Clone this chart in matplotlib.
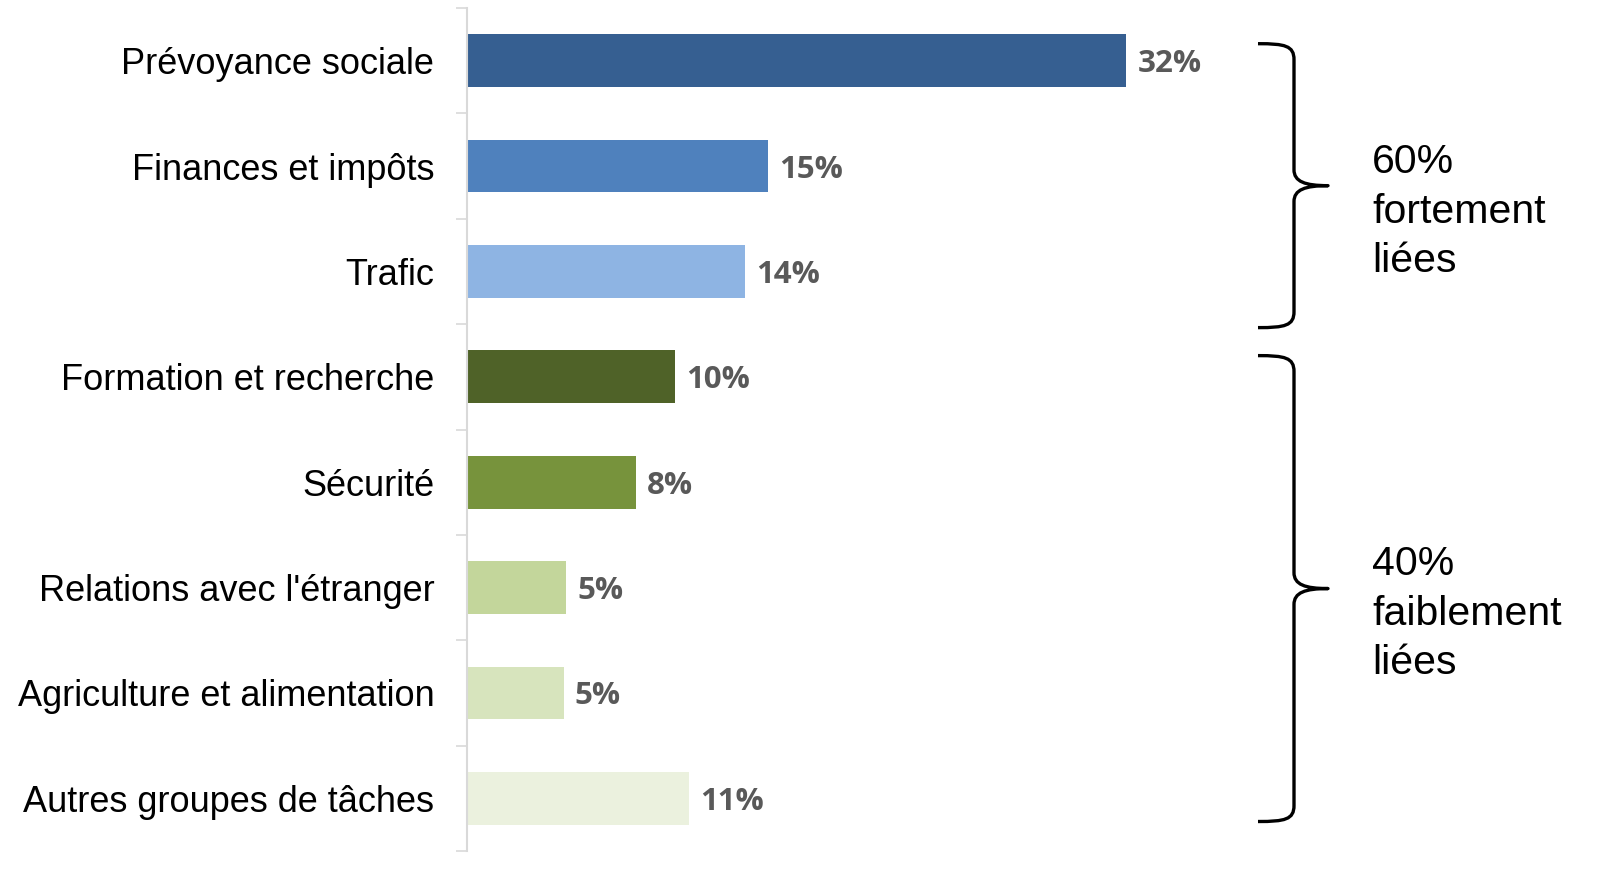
import matplotlib
matplotlib.use("Agg")
import matplotlib.pyplot as plt
from matplotlib.path import Path
from matplotlib.patches import PathPatch

categories = ["Prévoyance sociale", "Finances et impôts", "Trafic",
              "Formation et recherche", "Sécurité", "Relations avec l'étranger",
              "Agriculture et alimentation", "Autres groupes de tâches"]
values = [32.0, 14.6, 13.5, 10.1, 8.2, 4.8, 4.7, 10.8]
value_labels = ["32%", "15%", "14%", "10%", "8%", "5%", "5%", "11%"]
colors = ["#365F91", "#4F81BD", "#8EB4E3", "#4F6228", "#77933C",
          "#C3D69B", "#D7E4BD", "#EBF1DE"]
group_texts = ["60%\nfortement\nliées", "40%\nfaiblement\nliées"]

W, H = 1614, 874
fig = plt.figure(figsize=(W / 100, H / 100), dpi=100)
ax_left, ax_right, ax_top, ax_bot = 467, 1250, 8, 851
ax = fig.add_axes([ax_left / W, (H - ax_bot) / H, (ax_right - ax_left) / W, (ax_bot - ax_top) / H])

px_per_unit = 20.6
xmax = (ax_right - ax_left) / px_per_unit
ypos = list(range(len(categories)))
ax.barh(ypos, values, height=0.5, color=colors)
ax.set_xlim(0, xmax)
ax.set_ylim(len(categories) - 0.5, -0.5)

for y, v, lab in zip(ypos, values, value_labels):
    ax.annotate(lab, (v, y), xytext=(8, -2.5), textcoords="offset points",
                va="center", ha="left", fontsize=22.5, fontweight="bold",
                color="#595959", family="Open Sans")

ax.set_yticks(ypos)
ax.set_yticklabels(categories, fontsize=26, family="Liberation Sans", color="black")
ax.tick_params(axis="y", which="major", length=0, pad=23.5)
ax.set_yticks([i - 0.5 for i in range(len(categories) + 1)], minor=True)
ax.tick_params(axis="y", which="minor", length=8, width=1.2, color="#D9D9D9")
ax.set_xticks([])
for s in ["top", "right", "bottom"]:
    ax.spines[s].set_visible(False)
ax.spines["left"].set_color("#D9D9D9")
ax.spines["left"].set_linewidth(1.5)


def px2d(px, py):
    return ((px - ax_left) / px_per_unit, (py - 61) / 105.4)


def brace(top, bottom):
    mid = (top + bottom) / 2
    pts = [(1258, top), (1285, top), (1294, top + 2), (1294, top + 16),
           (1294, mid - 16),
           (1294, mid - 4), (1305, mid), (1328, mid),
           (1305, mid), (1294, mid + 4), (1294, mid + 16),
           (1294, bottom - 16),
           (1294, bottom - 2), (1285, bottom), (1258, bottom)]
    codes = [Path.MOVETO, Path.CURVE4, Path.CURVE4, Path.CURVE4,
             Path.LINETO,
             Path.CURVE4, Path.CURVE4, Path.CURVE4,
             Path.CURVE4, Path.CURVE4, Path.CURVE4,
             Path.LINETO,
             Path.CURVE4, Path.CURVE4, Path.CURVE4]
    path = Path([px2d(*p) for p in pts], codes)
    ax.add_patch(PathPatch(path, fill=False, lw=2.4, color="black",
                           clip_on=False, capstyle="butt", joinstyle="round"))


brace(44, 328)
brace(356, 822)

for txt, py in zip(group_texts, [212, 614]):
    x, y = px2d(1372, py)
    ax.text(x, y, txt, ha="left", va="center", fontsize=29.5,
            family="Liberation Sans", linespacing=1.38, clip_on=False)

fig.savefig("out.png", dpi=100)
